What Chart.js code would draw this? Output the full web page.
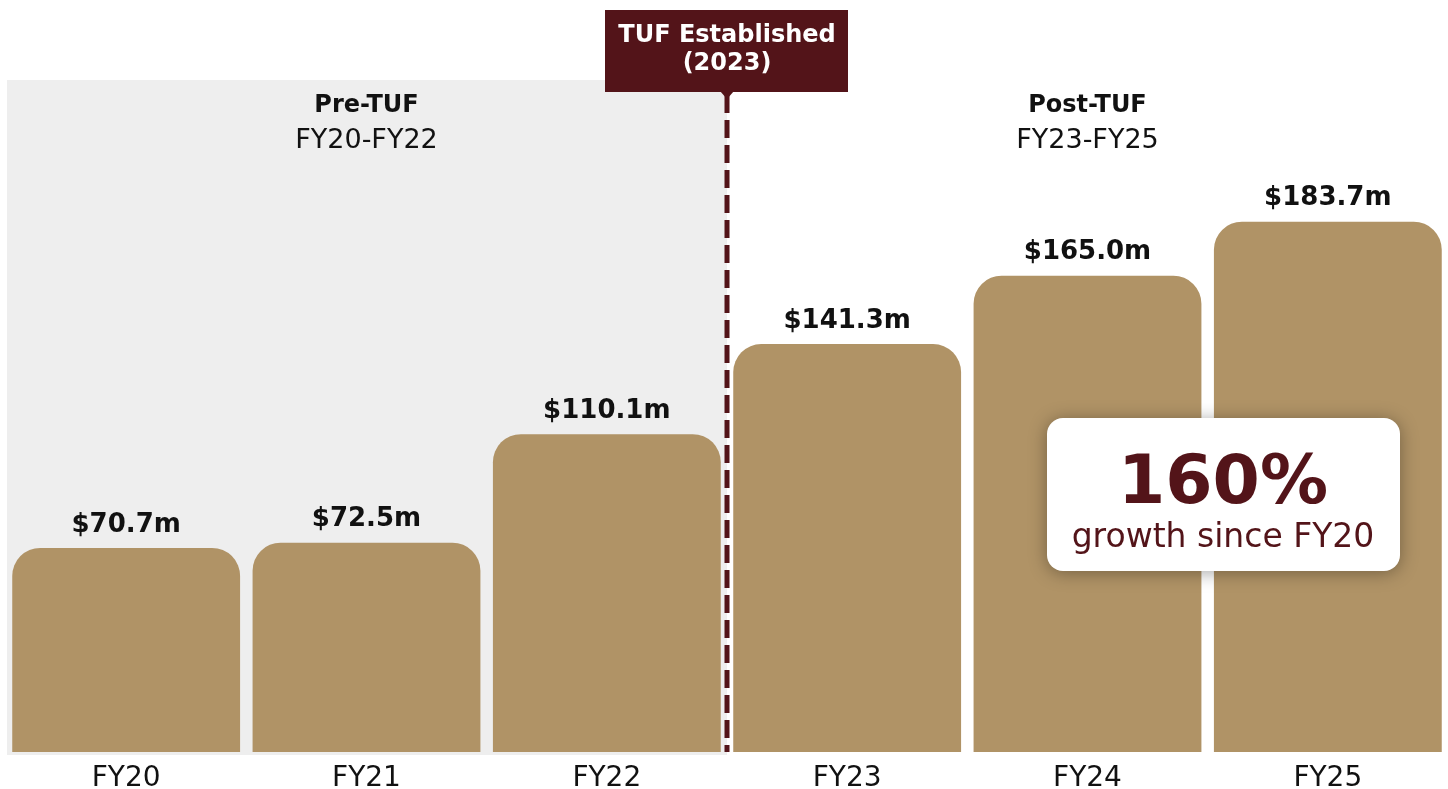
<!DOCTYPE html>
<html lang="en">
<head>
<meta charset="UTF-8">
<title>TUF Revenue</title>
<script src="https://cdn.jsdelivr.net/npm/chart.js"></script>
<style>
    body { margin: 0; background: #fff; }
    #wrap { width: 1448px; height: 789px; }
</style>
</head>
<body>
<div id="wrap"><canvas id="chart"></canvas></div>
<script>
    const years = ["FY20", "FY21", "FY22", "FY23", "FY24", "FY25"];
    const revenue = [70.7, 72.5, 110.1, 141.3, 165.0, 183.7];
    const valueLabels = ["$70.7m", "$72.5m", "$110.1m", "$141.3m", "$165.0m", "$183.7m"];

    const maroon = "#531419";
    const gold = "#b09366";
    const font = "'DejaVu Sans', sans-serif";

    // shaded pre-TUF area, divider, headings, callout
    const decor = {
        id: "decor",
        beforeDatasetsDraw(chart) {
            const { ctx, chartArea, scales } = chart;
            const split = (scales.x.getPixelForValue(2) + scales.x.getPixelForValue(3)) / 2;
            ctx.save();
            ctx.fillStyle = "#eeeeee";
            ctx.fillRect(chartArea.left + 1, 80, split - chartArea.left - 1, chartArea.bottom + 3 - 80);

            ctx.textAlign = "center";
            ctx.textBaseline = "middle";
            ctx.fillStyle = "#111";
            const leftMid = (chartArea.left + split) / 2;
            const rightMid = (split + chartArea.right) / 2;
            ctx.font = "bold 24px " + font;
            ctx.fillText("Pre-TUF", leftMid, 106);
            ctx.fillText("Post-TUF", rightMid, 106);
            ctx.font = "27px " + font;
            ctx.fillText("FY20-FY22", leftMid, 141);
            ctx.fillText("FY23-FY25", rightMid, 141);
            ctx.restore();
        },
        afterDatasetsDraw(chart) {
            const { ctx, chartArea, scales } = chart;
            const split = (scales.x.getPixelForValue(2) + scales.x.getPixelForValue(3)) / 2;
            ctx.save();

            // value labels
            ctx.textAlign = "center";
            ctx.textBaseline = "middle";
            ctx.fillStyle = "#111";
            ctx.font = "bold 26px " + font;
            revenue.forEach((v, i) => {
                ctx.fillText(valueLabels[i], scales.x.getPixelForValue(i), scales.y.getPixelForValue(v) - 23);
            });

            // dashed divider
            ctx.strokeStyle = maroon;
            ctx.lineWidth = 5;
            ctx.setLineDash([18, 7]);
            ctx.beginPath();
            ctx.moveTo(split, 95);
            ctx.lineTo(split, chartArea.bottom);
            ctx.stroke();
            ctx.setLineDash([]);

            // TUF established tag
            ctx.fillStyle = maroon;
            ctx.fillRect(split - 122, 10, 243, 82);
            ctx.beginPath();
            ctx.moveTo(split - 7, 91);
            ctx.lineTo(split + 7, 91);
            ctx.lineTo(split, 99);
            ctx.closePath();
            ctx.fill();
            ctx.fillStyle = "#fff";
            ctx.font = "bold 24px " + font;
            ctx.fillText("TUF Established", split, 36);
            ctx.fillText("(2023)", split, 64);

            // growth callout
            ctx.shadowColor = "rgba(0,0,0,0.35)";
            ctx.shadowBlur = 18;
            ctx.shadowOffsetY = 2;
            ctx.fillStyle = "#fff";
            ctx.beginPath();
            ctx.roundRect(1047, 418, 353, 153, 16);
            ctx.fill();
            ctx.shadowColor = "transparent";
            ctx.fillStyle = maroon;
            ctx.font = "bold 68px " + font;
            ctx.fillText("160%", 1223, 485);
            ctx.font = "33px " + font;
            ctx.fillText("growth since FY20", 1223, 538);
            ctx.restore();
        }
    };

    new Chart(document.getElementById("chart"), {
        type: "bar",
        data: {
            labels: years,
            datasets: [{
                data: revenue,
                backgroundColor: gold,
                borderRadius: { topLeft: 28, topRight: 28, bottomLeft: 0, bottomRight: 0 },
                borderSkipped: false,
                barPercentage: 0.948,
                categoryPercentage: 1
            }]
        },
        options: {
            responsive: true,
            maintainAspectRatio: false,
            animation: false,
            layout: { padding: { left: 6, right: 0, top: 0, bottom: 0 } },
            plugins: {
                legend: { display: false },
                tooltip: { enabled: false }
            },
            scales: {
                x: {
                    grid: { display: false },
                    border: { display: false },
                    ticks: { color: "#111", font: { family: font, size: 28 }, padding: 2 },
                    afterFit: s => { s.height = 37; }
                },
                y: {
                    display: false,
                    min: 0,
                    max: 260.5
                }
            }
        },
        plugins: [decor]
    });
</script>
</body>
</html>
